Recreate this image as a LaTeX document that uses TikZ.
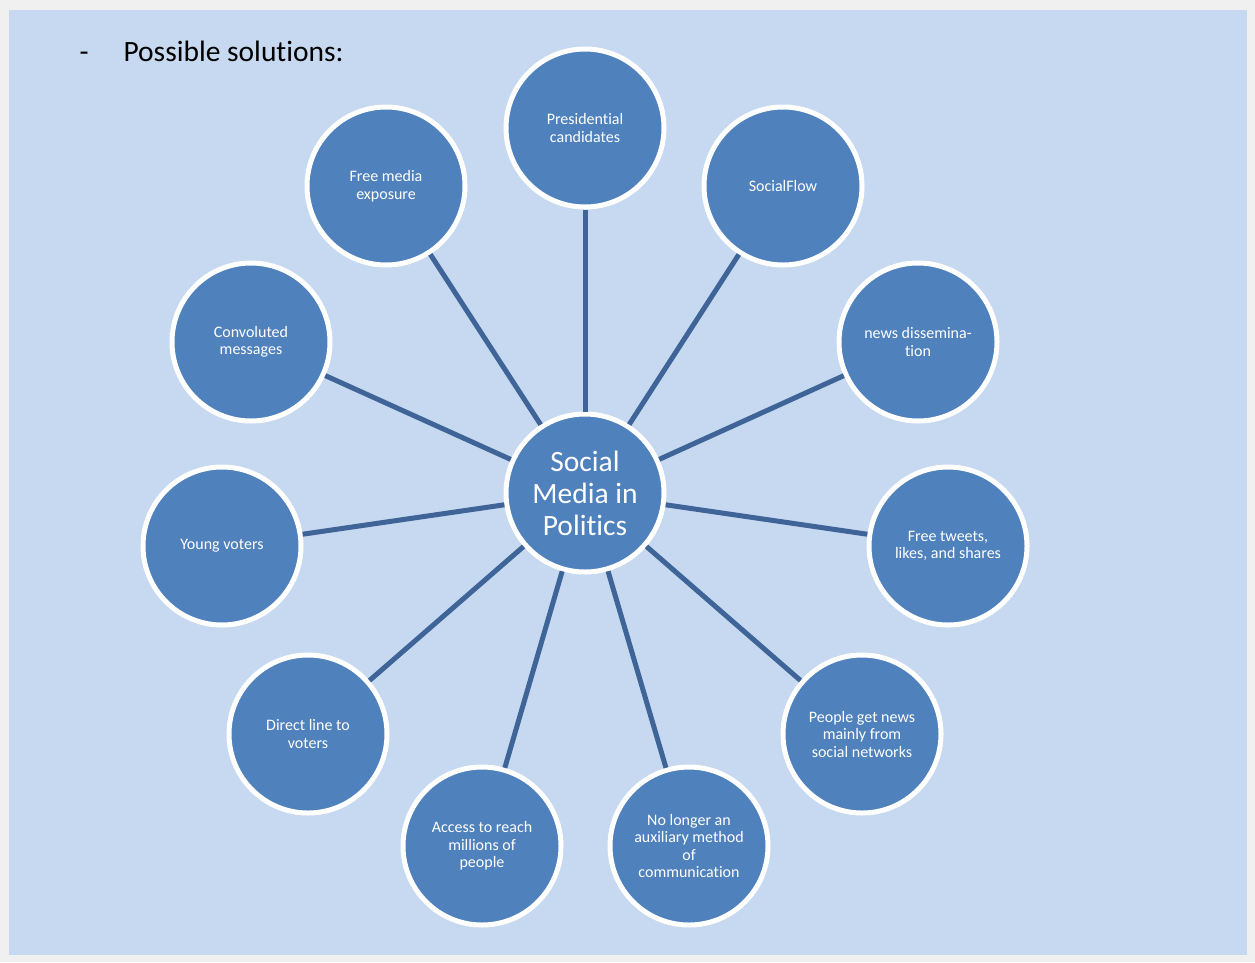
\documentclass[tikz,border=0pt]{standalone}
\usepackage{fontspec}
\setmainfont{Carlito}[Ligatures={NoCommon,NoContextual}]
\definecolor{bgout}{HTML}{F0F0F0}
\definecolor{bgin}{HTML}{C6D9F0}
\definecolor{circfill}{HTML}{4F81BD}
\definecolor{linkcol}{HTML}{3F6498}
\begin{document}
\begin{tikzpicture}[x=1pt,y=-1pt,
  bubble/.style={circle,fill=circfill,draw=white,line width=5pt,minimum size=158pt,inner sep=0pt,
    text=white,align=center,font=\fontsize{16pt}{17.5pt}\selectfont},
  hub/.style={bubble,font=\fontsize{29.5pt}{32pt}\selectfont},
  link/.style={draw=linkcol,line width=5pt}]
\fill[bgout] (0,0) rectangle (1255,962);
\fill[bgin] (9,10) rectangle (1247,955);
\node[anchor=base west,font=\fontsize{29.5pt}{33pt}\selectfont] (dash) at (76,61) {-};
\node[anchor=base west,font=\fontsize{29.5pt}{33pt}\selectfont] (title) at (120,61) {Possible solutions:};
\node[hub] (c) at (585,493) {Social\\Media in\\Politics};
\node[bubble] (n1) at (585,128) {Presidential\\candidates};
\node[bubble] (n2) at (783,186) {SocialFlow};
\node[bubble] (n3) at (918,342) {news dissemina-\\tion};
\node[bubble] (n4) at (948,546) {Free tweets,\\likes, and shares};
\node[bubble] (n5) at (862,734) {People get news\\mainly from\\social networks};
\node[bubble] (n6) at (689,846) {No longer an\\auxiliary method\\of\\communication};
\node[bubble] (n7) at (482,846) {Access to reach\\millions of\\people};
\node[bubble] (n8) at (308,734) {Direct line to\\voters};
\node[bubble] (n9) at (222,546) {Young voters};
\node[bubble] (n10) at (251,342) {Convoluted\\messages};
\node[bubble] (n11) at (386,186) {Free media\\exposure};
\foreach \n in {n1,n2,n3,n4,n5,n6,n7,n8,n9,n10,n11}
  \draw[link] (c) -- (\n);
\end{tikzpicture}
\end{document}
